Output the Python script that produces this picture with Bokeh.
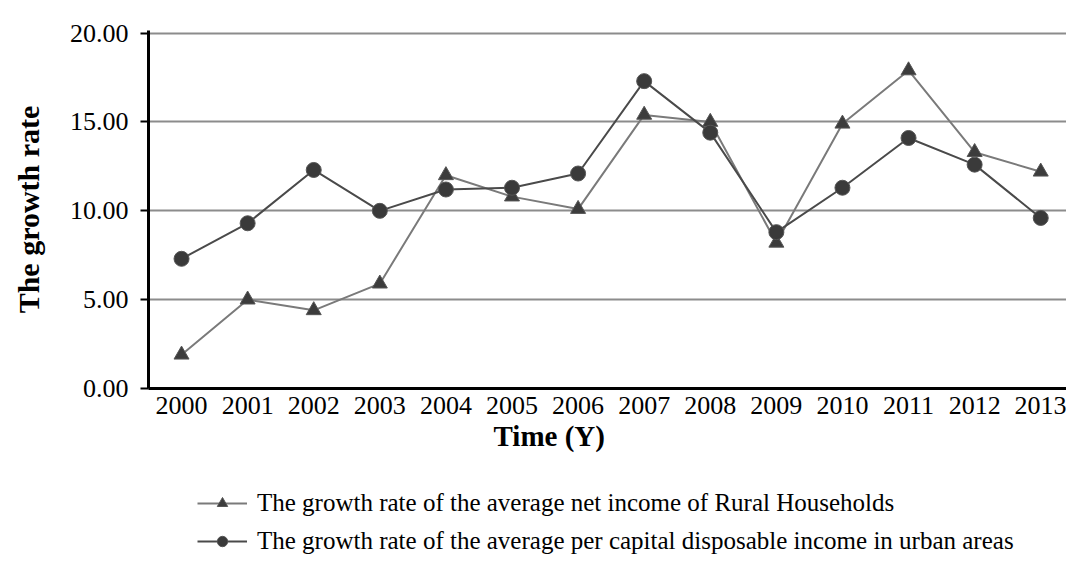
from bokeh.plotting import figure
from bokeh.layouts import column
from bokeh.models import Range1d, FixedTicker, PrintfTickFormatter, Title, Legend, LegendItem, ColumnDataSource
from bokeh.embed import file_html
from bokeh.resources import INLINE

years = list(range(2000, 2014))
rural = [1.9, 5.0, 4.4, 5.9, 12.0, 10.8, 10.1, 15.4, 15.0, 8.2, 14.9, 17.9, 13.3, 12.2]
urban = [7.3, 9.3, 12.3, 10.0, 11.2, 11.3, 12.1, 17.3, 14.4, 8.8, 11.3, 14.1, 12.6, 9.6]
y_ticks = [0, 5, 10, 15, 20]
rural_label = "The growth rate of the average net income of Rural Households"
urban_label = "The growth rate of the average per capital disposable income in urban areas"

FONT = "Liberation Serif"
RURAL_LINE = dict(line_color="#7a7a7a", line_width=2)
URBAN_LINE = dict(line_color="#4a4a4a", line_width=2)
RURAL_MARK = dict(marker="triangle", size=15, fill_color="#3c3c3c", line_color="#555555")
URBAN_MARK = dict(marker="circle", size=15, fill_color="#3a3a3a", line_color="#555555")

src = ColumnDataSource(dict(year=years, rural=rural, urban=urban))

p = figure(width=1066, height=460, output_backend="svg", toolbar_location=None,
           x_range=Range1d(1999.5, 2013.39), y_range=Range1d(0, 20.15),
           min_border_left=148, min_border_right=0, min_border_top=30, min_border_bottom=72)
p.outline_line_color = None
p.background_fill_color = "white"
p.border_fill_color = "white"

p.xgrid.grid_line_color = None
p.ygrid.grid_line_color = "#8c8c8c"
p.ygrid.grid_line_width = 2
p.ygrid.ticker = FixedTicker(ticks=y_ticks)

# axes
p.xaxis.ticker = FixedTicker(ticks=years)
p.xaxis.formatter = PrintfTickFormatter(format="%d")
p.xaxis.major_tick_out = 0
p.xaxis.major_tick_in = 0
p.xaxis.minor_tick_out = 0
p.xaxis.minor_tick_in = 0
p.xaxis.axis_line_width = 3
p.xaxis.axis_line_color = "black"
p.xaxis.major_label_text_font = FONT
p.xaxis.major_label_text_font_size = "26px"
p.xaxis.major_label_text_color = "black"
p.xaxis.major_label_standoff = 8

p.yaxis.ticker = FixedTicker(ticks=y_ticks)
p.yaxis.formatter = PrintfTickFormatter(format="%.2f")
p.yaxis.major_tick_out = 8
p.yaxis.major_tick_in = 0
p.yaxis.major_tick_line_width = 2
p.yaxis.minor_tick_out = 0
p.yaxis.minor_tick_in = 0
p.yaxis.axis_line_width = 3
p.yaxis.axis_line_color = "black"
p.yaxis.major_label_text_font = FONT
p.yaxis.major_label_text_font_size = "26px"
p.yaxis.major_label_text_color = "black"
p.yaxis.major_label_standoff = 12
p.yaxis.axis_label = "The growth rate"
p.yaxis.axis_label_text_font = FONT
p.yaxis.axis_label_text_font_size = "30px"
p.yaxis.axis_label_text_font_style = "bold"
p.yaxis.axis_label_text_color = "black"
p.yaxis.axis_label_standoff = 22

# series
p.line("year", "rural", source=src, **RURAL_LINE)
p.scatter("year", "rural", source=src, **RURAL_MARK)
p.line("year", "urban", source=src, **URBAN_LINE)
p.scatter("year", "urban", source=src, **URBAN_MARK)

t = Title(text="Time (Y)", align="left", offset=345, text_font=FONT,
          text_font_size="29px", text_font_style="bold", text_color="black", standoff=2)
p.add_layout(t, "below")

# legend panel (its frame is aligned with the main plot's frame)
lp = figure(width=1066, height=110, output_backend="svg", toolbar_location=None,
            x_range=Range1d(0, 1), y_range=Range1d(0, 1),
            min_border_left=148, min_border_right=0, min_border_top=0, min_border_bottom=0)
lp.axis.visible = False
lp.grid.visible = False
lp.outline_line_color = None
nan = float("nan")
lr_line = lp.line([nan], [nan], **RURAL_LINE)
lr_pts = lp.scatter([nan], [nan], **RURAL_MARK)
lu_line = lp.line([nan], [nan], **URBAN_LINE)
lu_pts = lp.scatter([nan], [nan], **URBAN_MARK)

legend = Legend(items=[LegendItem(label=rural_label, renderers=[lr_line, lr_pts]),
                       LegendItem(label=urban_label, renderers=[lu_line, lu_pts])],
                location=(49, 15), orientation="vertical",
                label_text_font=FONT, label_text_font_size="25px", label_text_color="black",
                glyph_width=50, glyph_height=26, label_height=26, spacing=10,
                padding=0, margin=0, border_line_color=None, background_fill_alpha=0,
                label_standoff=10)
lp.add_layout(legend, "center")

layout = column(p, lp, spacing=0)
open("out.html", "w").write(file_html(layout, INLINE))
